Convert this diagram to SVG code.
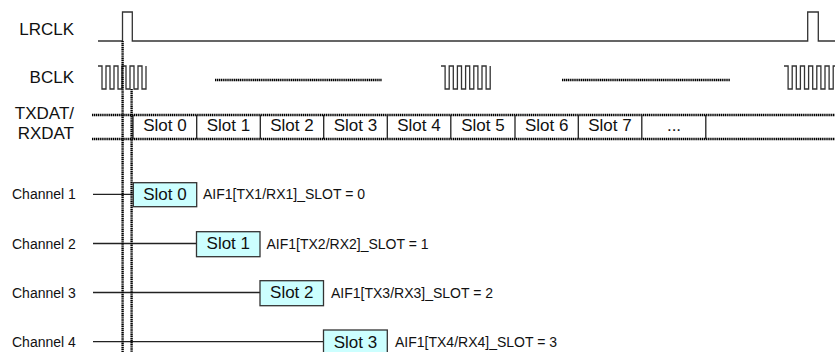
<svg xmlns="http://www.w3.org/2000/svg" width="835" height="352" viewBox="0 0 835 352">
<style>
.t{font-family:"Liberation Sans",Arial,sans-serif;fill:#111}
.big{font-size:17px}
.sm{font-size:14px}
.wave{fill:none;stroke:#333;stroke-width:1.3}
.dot{fill:none;stroke:#000;stroke-width:2.4;stroke-dasharray:1.3 0.6}
.sol{fill:none;stroke:#222;stroke-width:1.3}
.box{fill:#ccffff;stroke:#333;stroke-width:1.3}
</style>
<rect width="835" height="352" fill="#fff"/>
<g id="labels">
<text class="t big" x="74" y="35" text-anchor="end">LRCLK</text>
<text class="t big" x="74" y="83" text-anchor="end">BCLK</text>
<text class="t big" x="74" y="119" text-anchor="end">TXDAT/</text>
<text class="t big" x="74" y="138.6" text-anchor="end">RXDAT</text>
</g>
<g id="lrclk">
<path class="wave" d="M98,41 H122.5 V12 H132.3 V41 H807.7 V12 H818.3 V41 H835"/>
</g>
<g id="bclk">
<path class="wave" d="M98,66 H102 V89 H106 V66 H110 V89 H114 V66 H118 V89 H122 V66 H126 V89 H130 V66 H134 V89 H138 V66 H142 V89 H146 V66"/>
<path class="wave" d="M441,66 H445.1 V89 H449.2 V66 H453.3 V89 H457.4 V66 H461.5 V89 H465.6 V66 H469.7 V89 H473.8 V66 H477.9 V89 H482 V66 H486.1 V89 H490.2 V66"/>
<path class="wave" d="M784,66 H788.1 V89 H792.2 V66 H796.3 V89 H800.4 V66 H804.5 V89 H808.6 V66 H812.7 V89 H816.8 V66 H820.9 V89 H825 V66 H829.1 V89 H833.2 V66 H837.3"/>
<line class="dot" x1="215" y1="80" x2="382" y2="80"/>
<line class="dot" x1="562" y1="80" x2="730" y2="80"/>
</g>
<g id="data">
<line class="dot" x1="92" y1="115" x2="835" y2="115"/>
<line class="dot" x1="92" y1="139" x2="835" y2="139"/>
<g class="sol">
<line x1="133" y1="115" x2="133" y2="139"/>
<line x1="196.7" y1="115" x2="196.7" y2="139"/>
<line x1="260.3" y1="115" x2="260.3" y2="139"/>
<line x1="323.7" y1="115" x2="323.7" y2="139"/>
<line x1="387.3" y1="115" x2="387.3" y2="139"/>
<line x1="450.8" y1="115" x2="450.8" y2="139"/>
<line x1="515" y1="115" x2="515" y2="139"/>
<line x1="578.3" y1="115" x2="578.3" y2="139"/>
<line x1="641.8" y1="115" x2="641.8" y2="139"/>
<line x1="705.8" y1="115" x2="705.8" y2="139"/>
</g>
<g class="t big" text-anchor="middle">
<text x="165" y="131">Slot 0</text>
<text x="228.5" y="131">Slot 1</text>
<text x="292" y="131">Slot 2</text>
<text x="355.5" y="131">Slot 3</text>
<text x="419" y="131">Slot 4</text>
<text x="483" y="131">Slot 5</text>
<text x="546.7" y="131">Slot 6</text>
<text x="610" y="131">Slot 7</text>
<text x="674" y="131">...</text>
</g>
</g>
<g id="connectors">
<line class="sol" x1="93" y1="194.3" x2="133" y2="194.3"/>
<line class="sol" x1="93" y1="243.5" x2="196.5" y2="243.5"/>
<line class="sol" x1="93" y1="292.5" x2="260" y2="292.5"/>
<line class="sol" x1="93" y1="341.7" x2="323.5" y2="341.7"/>
</g>
<g id="markers">
<line class="dot" x1="122.6" y1="41" x2="122.6" y2="352"/>
<line class="dot" x1="131.6" y1="89" x2="131.6" y2="352"/>
</g>
<g id="channel1">
<text class="t sm" x="12" y="199">Channel 1</text>
<rect class="box" x="133.3" y="182.7" width="63.4" height="24"/>
<text class="t big" x="165" y="200" text-anchor="middle">Slot 0</text>
<text class="t sm" x="203" y="199">AIF1[TX1/RX1]_SLOT = 0</text>
</g>
<g id="channel2">
<text class="t sm" x="12" y="248.5">Channel 2</text>
<rect class="box" x="196.5" y="231.7" width="63.5" height="25"/>
<text class="t big" x="228.3" y="249.3" text-anchor="middle">Slot 1</text>
<text class="t sm" x="266.5" y="248.5">AIF1[TX2/RX2]_SLOT = 1</text>
</g>
<g id="channel3">
<text class="t sm" x="12" y="297.5">Channel 3</text>
<rect class="box" x="260" y="280.7" width="63.5" height="25"/>
<text class="t big" x="291.8" y="298.3" text-anchor="middle">Slot 2</text>
<text class="t sm" x="331" y="297.5">AIF1[TX3/RX3]_SLOT = 2</text>
</g>
<g id="channel4">
<text class="t sm" x="12" y="347">Channel 4</text>
<rect class="box" x="323.5" y="330" width="63.8" height="25"/>
<text class="t big" x="355.4" y="348" text-anchor="middle">Slot 3</text>
<text class="t sm" x="395" y="347">AIF1[TX4/RX4]_SLOT = 3</text>
</g>
</svg>
